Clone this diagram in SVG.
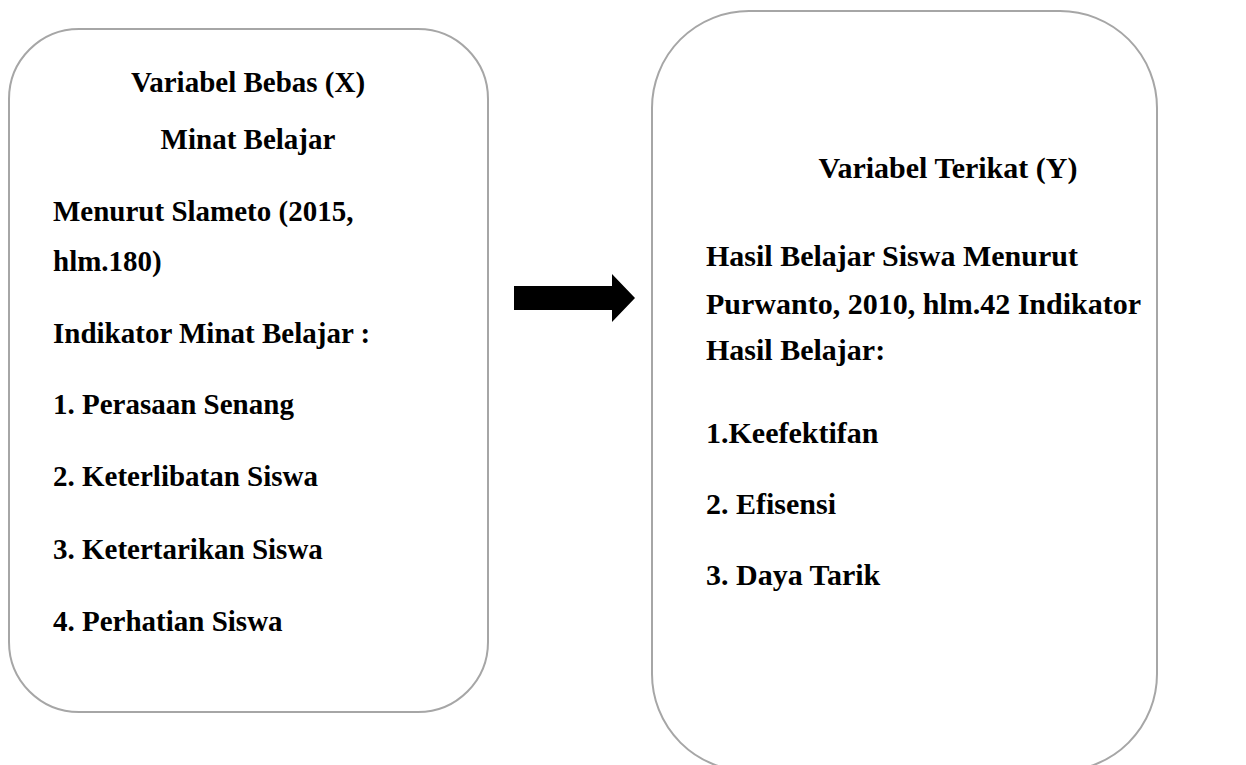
<svg xmlns="http://www.w3.org/2000/svg" width="1246" height="765" viewBox="0 0 1246 765">
<style>
.box{fill:#ffffff;stroke:#a6a6a6;stroke-width:2}
.t{font-family:"Liberation Serif","Times New Roman",serif;font-weight:bold;fill:#000000}
.l{font-size:29px}
.r{font-size:30px}
.c{text-anchor:middle}
</style>
<rect width="1246" height="765" fill="#ffffff"/>
<g id="node-x">
<rect class="box" x="9" y="29" width="479" height="683" rx="70" ry="70"/>
<text class="t l c" x="248" y="92">Variabel Bebas (X)</text>
<text class="t l c" x="248" y="149">Minat Belajar</text>
<text class="t l" x="53" y="221">Menurut Slameto (2015,</text>
<text class="t l" x="53" y="271">hlm.180)</text>
<text class="t l" x="53" y="343">Indikator Minat Belajar :</text>
<text class="t l" x="53" y="414">1. Perasaan Senang</text>
<text class="t l" x="53" y="486">2. Keterlibatan Siswa</text>
<text class="t l" x="53" y="559">3. Ketertarikan Siswa</text>
<text class="t l" x="53" y="631">4. Perhatian Siswa</text>
</g>
<g id="node-y">
<rect class="box" x="652" y="11" width="505" height="760" rx="97" ry="97"/>
<text class="t r c" x="948" y="178">Variabel Terikat (Y)</text>
<text class="t r" x="706" y="266">Hasil Belajar Siswa Menurut</text>
<text class="t r" x="706" y="314">Purwanto, 2010, hlm.42 Indikator</text>
<text class="t r" x="706" y="360">Hasil Belajar:</text>
<text class="t r" x="706" y="443">1.Keefektifan</text>
<text class="t r" x="706" y="514">2. Efisensi</text>
<text class="t r" x="706" y="585">3. Daya Tarik</text>
</g>
<g id="connectors">
<polygon points="514,286 612,286 612,274 635,298 612,322 612,310 514,310" fill="#000000"/>
</g>
</svg>
